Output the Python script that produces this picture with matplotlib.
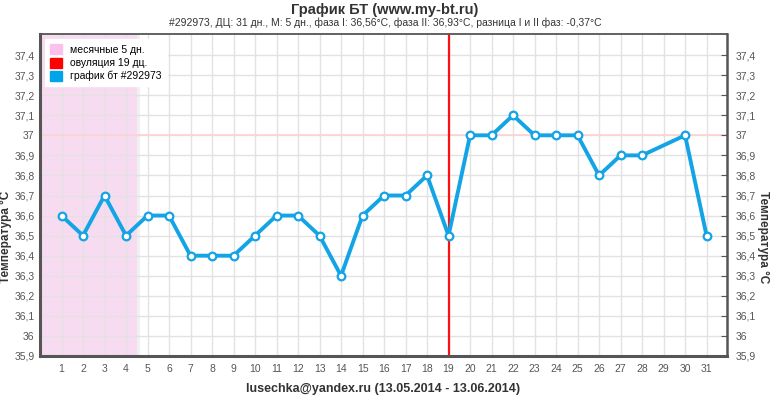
import matplotlib
matplotlib.use("Agg")
import matplotlib.pyplot as plt
import matplotlib.patches as mpatches
import numpy as np

days = list(range(1, 32))
temps = [36.6, 36.5, 36.7, 36.5, 36.6, 36.6, 36.4, 36.4, 36.4, 36.5,
         36.6, 36.6, 36.5, 36.3, 36.6, 36.7, 36.7, 36.8, 36.5, 37.0,
         37.0, 37.1, 37.0, 37.0, 37.0, 36.8, 36.9, 36.9, None, 37.0, 36.5]
yticks = [35.9, 36.0, 36.1, 36.2, 36.3, 36.4, 36.5, 36.6, 36.7, 36.8, 36.9,
          37.0, 37.1, 37.2, 37.3, 37.4]
ytick_labels = ["35,9", "36", "36,1", "36,2", "36,3", "36,4", "36,5", "36,6",
                "36,7", "36,8", "36,9", "37", "37,1", "37,2", "37,3", "37,4"]
menses_days = 5
ovulation_day = 19
coverline = 37.0
title = "График БТ (www.my-bt.ru)"
subtitle = "#292973, ДЦ: 31 дн., М: 5 дн., фаза I: 36,56°C, фаза II: 36,93°C, разница I и II фаз: -0,37°C"
xlabel = "lusechka@yandex.ru (13.05.2014 - 13.06.2014)"
ylabel = "Температура °C"
legend_labels = ["месячные 5 дн.", "овуляция 19 дц.", "график бт #292973"]

plt.rcParams['font.family'] = ['Arial', 'Liberation Sans', 'DejaVu Sans']

blue = "#13a4e6"
fig = plt.figure(figsize=(7.7, 3.95), dpi=100)
ax = fig.add_axes([40/770, 1-356/395, 687/770, 322/395])

x = np.array(days, dtype=float)
y = np.array([np.nan if v is None else v for v in temps])
mask = ~np.isnan(y)

ax.set_xlim(0, 31.95)
ax.set_ylim(35.9, 37.505)

# grid
ax.set_xticks(days)
ax.set_yticks(yticks)
ax.set_yticklabels(ytick_labels)
ax.grid(True, color="#e2e2e2", linewidth=1.0)
ax.set_axisbelow(True)

# menses band
ax.axvspan(0, menses_days - 0.5, color="#f7dbf0", zorder=0.5, lw=0)
ax.axvspan(menses_days - 0.5, menses_days - 0.35, color="#f0f0f0", zorder=0.5, lw=0)
# coverline
ax.axhline(coverline, color="#ffd2d2", lw=1.2, zorder=1)
# ovulation
ax.axvline(ovulation_day, color="#ff1010", lw=1.6, zorder=2)
# line
ax.plot(x[mask], y[mask], color=blue, lw=2.8, zorder=3, solid_joinstyle='round')
ax.plot(x[mask], y[mask], 'o', ms=5.5, mfc="white", mec=blue, mew=1.6, zorder=4)

for s in ax.spines.values():
    s.set_color("#555555")
ax.spines['left'].set_linewidth(2.2)
ax.spines['bottom'].set_linewidth(2.2)
ax.spines['top'].set_linewidth(1.3)
ax.spines['right'].set_linewidth(1.8)

ax.tick_params(axis='x', length=0, labelsize=7.5, labelcolor="#555555", pad=6)
ax.tick_params(axis='y', length=0, labelsize=7.5, labelcolor="#555555", pad=4)

ax2 = ax.twinx()
ax2.set_ylim(ax.get_ylim())
ax2.set_yticks(yticks)
ax2.set_yticklabels(ytick_labels)
ax2.tick_params(axis='y', direction='in', length=4, color="#555555", labelsize=7.5,
                labelcolor="#555555", pad=6)
for s in ax2.spines.values():
    s.set_visible(False)

ax.set_xlabel(xlabel, fontsize=9, fontweight='bold', color="#333333", labelpad=6)
ax.set_ylabel(ylabel, fontsize=8.5, fontweight='bold', color="#333333",
              va='center', ha='center')
ax.yaxis.set_label_coords(-0.0495, 0.37)
ax2.set_ylabel(ylabel, fontsize=8.5, fontweight='bold', color="#333333", rotation=-90,
               va='center', ha='center')
ax2.yaxis.set_label_coords(1.052, 0.37)

fig.text(0.5, 1-10/395, title, ha='center', va='center', fontsize=10.5, fontweight='bold', color="#333333")
fig.text(0.5, 1-23/395, subtitle, ha='center', va='center', fontsize=7.5, color="#333333")

handles = [mpatches.Patch(color="#fcc0ec"), mpatches.Patch(color="#ff0000"),
           mpatches.Patch(color="#00a4e8")]
leg = ax.legend(handles, legend_labels, loc='upper left', bbox_to_anchor=(0.0, 1.0),
                fontsize=7.5, frameon=True, fancybox=False, framealpha=1.0,
                edgecolor="white", handlelength=1.1, handleheight=1.1,
                handletextpad=0.8, borderpad=0.5, labelspacing=0.25)
leg.set_zorder(10)

fig.savefig("out.png", dpi=100)
